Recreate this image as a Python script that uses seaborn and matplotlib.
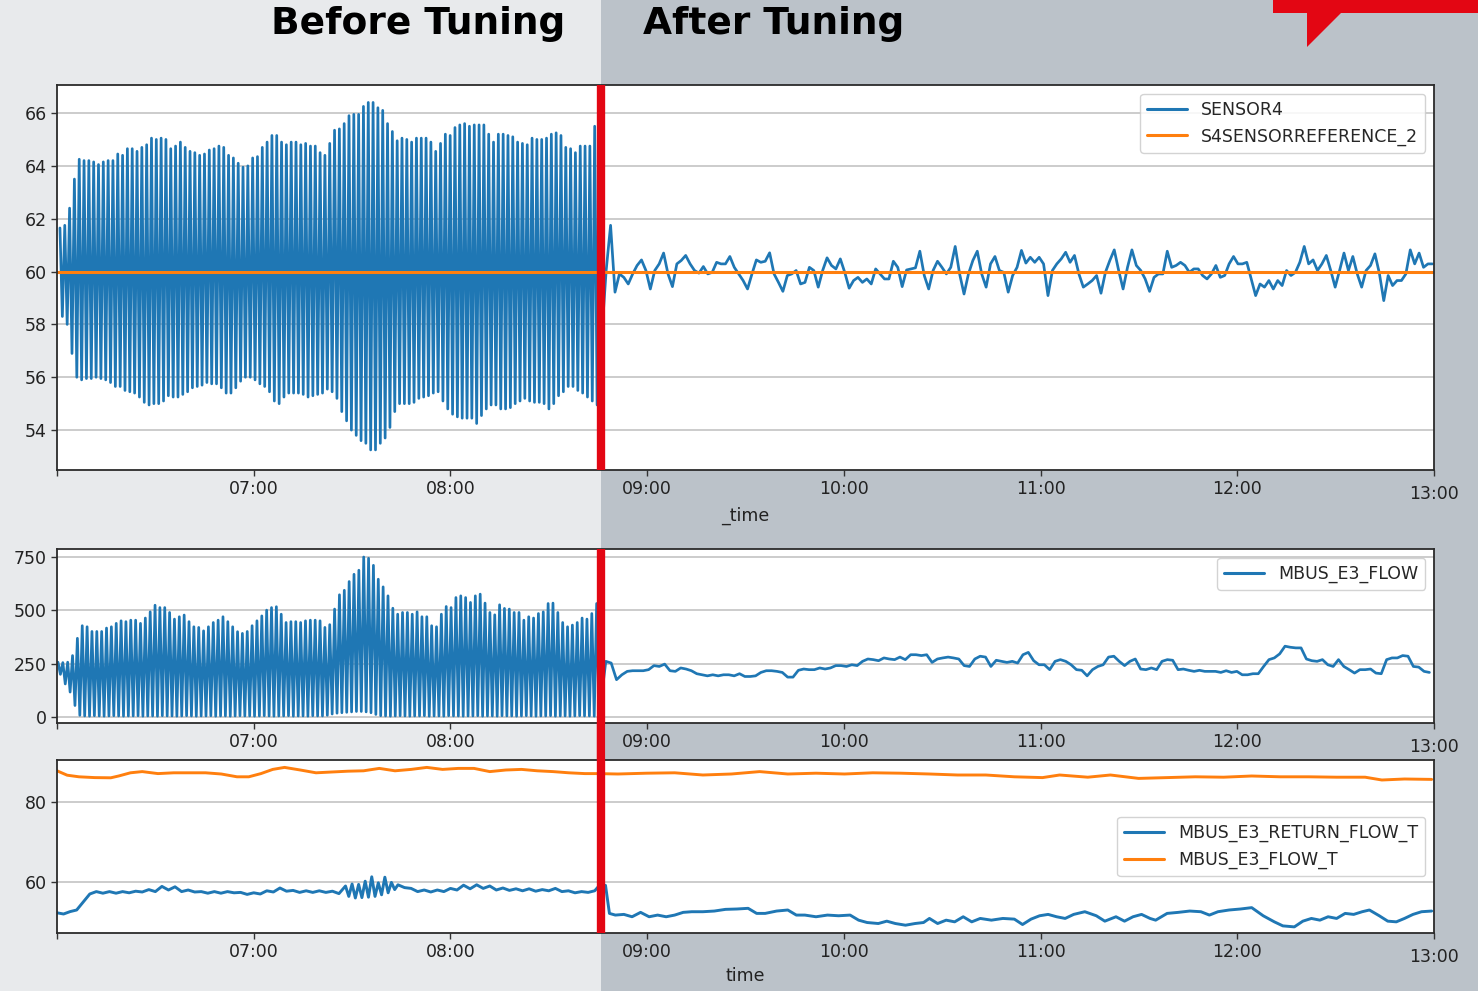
import numpy as np
import pandas as pd
import matplotlib
matplotlib.use("Agg")
import matplotlib.pyplot as plt
import matplotlib.dates as mdates
from matplotlib.patches import Rectangle, Polygon, ConnectionPatch
import seaborn as sns

sns.set_style("ticks")
plt.rcParams['font.family'] = ['DejaVu Sans']

# ---------------- data (minutes after 06:00) ----------------
BASE = pd.Timestamp("2019-03-12 06:00")
X_START_MIN, X_END_MIN = 0, 420
TUNING_MIN = 165.9

# SENSOR4 before tuning: oscillation peaks / troughs (one per cycle)
SENSOR4_PEAKS = [
    61.65, 61.75, 62.4, 63.5, 64.25, 64.2, 64.2, 64.15, 64.05, 64.15,
    64.2, 64.2, 64.45, 64.4, 64.65, 64.65, 64.55, 64.7, 64.8, 65.05,
    65.0, 65.05, 65.0, 64.65, 64.75, 64.9, 64.7, 64.55, 64.5, 64.4,
    64.45, 64.6, 64.65, 64.75, 64.7, 64.4, 64.3, 64.1, 63.95, 64.0,
    64.3, 64.35, 64.7, 64.9, 65.15, 65.15, 64.9, 64.8, 64.9, 64.9,
    64.8, 64.85, 64.75, 64.75, 64.5, 64.4, 64.85, 65.35, 65.4, 65.6,
    65.9, 65.95, 65.95, 66.25, 66.4, 66.4, 66.2, 66.1, 65.6, 65.3,
    64.95, 65.05, 65.0, 64.9, 65.05, 65.05, 65.05, 64.9, 64.55, 64.85,
    65.2, 65.15, 65.45, 65.55, 65.6, 65.5, 65.55, 65.55, 65.55, 65.2,
    64.9, 65.2, 65.2, 65.15, 65.1, 64.9, 64.85, 64.8, 65.05, 65.0,
    65.0, 65.05, 65.2, 65.25, 65.15, 64.7, 64.65, 64.5, 64.75, 64.75,
    64.75, 65.5]
SENSOR4_TROUGHS = [
    58.3, 58.0, 56.9, 56.0, 55.9, 55.95, 55.95, 56.0, 55.95, 55.9,
    55.8, 55.65, 55.65, 55.5, 55.45, 55.4, 55.25, 55.05, 54.95, 55.0,
    55.0, 55.1, 55.3, 55.25, 55.25, 55.35, 55.45, 55.6, 55.65, 55.7,
    55.8, 55.75, 55.75, 55.6, 55.4, 55.4, 55.6, 55.85, 56.0, 56.0,
    55.9, 55.75, 55.65, 55.45, 55.1, 55.0, 55.25, 55.4, 55.4, 55.4,
    55.35, 55.25, 55.3, 55.35, 55.4, 55.55, 55.45, 55.2, 54.7, 54.35,
    54.0, 53.8, 53.6, 53.5, 53.25, 53.25, 53.5, 53.7, 54.1, 54.7,
    55.0, 55.0, 55.0, 55.05, 55.2, 55.25, 55.3, 55.4, 55.45, 55.1,
    54.8, 54.6, 54.5, 54.45, 54.45, 54.45, 54.25, 54.55, 54.8, 54.95,
    54.95, 54.8, 54.8, 54.85, 55.0, 55.1, 55.2, 55.1, 55.05, 55.05,
    55.0, 54.8, 55.0, 55.3, 55.45, 55.65, 55.65, 55.5, 55.4, 55.25,
    55.1, 54.95]
SENSOR4_OSC_START_MIN, SENSOR4_OSC_END_MIN = 0.9, 164.0

# SENSOR4 after tuning (regular samples)
SENSOR4_AFTER = [
    60.04, 61.75, 59.22, 59.91, 59.78, 59.53, 59.91, 60.23, 60.44, 60.04,
    59.34, 60.04, 60.29, 60.70, 59.91, 59.43, 60.29, 60.42, 60.61, 60.29,
    60.04, 59.94, 60.19, 59.91, 59.97, 60.35, 60.29, 60.29, 60.57, 60.16,
    59.91, 59.66, 59.34, 59.91, 60.44, 60.35, 60.39, 60.71, 59.91, 59.59,
    59.25, 59.85, 59.91, 60.04, 59.53, 59.59, 60.16, 60.04, 59.41, 60.04,
    60.52, 60.23, 60.10, 60.48, 59.97, 59.37, 59.66, 59.78, 59.59, 59.72,
    59.53, 60.10, 59.91, 59.72, 59.72, 60.39, 60.16, 59.43, 60.06, 60.10,
    60.14, 60.77, 59.85, 59.34, 60.04, 60.39, 60.16, 59.91, 60.16, 60.95,
    59.91, 59.15, 59.91, 60.42, 60.77, 59.91, 59.41, 60.29, 60.57, 60.04,
    59.97,
    59.22, 59.85, 60.16, 60.80, 60.32, 60.54, 60.35, 60.54, 60.29, 59.09,
    60.04, 60.29, 60.48, 60.73, 60.35, 60.61, 59.91, 59.41, 59.53, 59.66,
    59.85, 59.18, 59.97, 60.42, 60.82, 60.04, 59.34, 60.16, 60.82, 60.23,
    60.04, 59.72, 59.25, 59.78, 59.91, 59.91, 60.77, 60.16, 60.23, 60.35,
    60.23, 59.97, 60.10, 60.10, 59.85, 59.72, 59.91, 60.23, 59.78, 59.85,
    60.29, 60.57, 60.29, 60.29, 60.35, 59.72, 59.09, 59.53, 59.41, 59.66,
    59.34, 59.66, 59.47, 60.04, 59.85, 59.97, 60.35, 60.95, 60.29, 60.44,
    60.04, 60.29, 60.61, 60.04, 59.41, 60.04, 60.70, 60.04, 60.57, 59.91,
    59.41, 60.04, 60.23, 60.67, 59.94, 58.90, 59.85, 59.47, 59.66, 59.66,
    59.91, 60.82, 60.29, 60.70, 60.16, 60.29, 60.29]
SENSOR4_AFTER_START_MIN, SENSOR4_AFTER_END_MIN = 167.5, 419.5

# S4SENSORREFERENCE_2 (constant setpoint)
REF_MIN = [0, 420]
REF_VAL = [60.0, 60.0]

# MBUS_E3_FLOW before tuning: peaks / troughs per cycle
FLOW_PEAKS = [
    257, 255, 257, 288, 369,
    428, 423, 401, 401, 401, 417, 423, 439, 451, 447,
    454, 454, 439, 464, 493, 524, 513, 513, 490, 459,
    470, 478, 447, 423, 420, 404, 423, 443, 454, 470,
    447, 423, 400, 392, 401, 428, 451, 474, 501, 513,
    517, 482, 443, 447, 447, 443, 451, 454, 454, 451,
    420, 433, 506, 573, 594, 635, 669, 688, 750, 744,
    711, 646, 610, 568, 510, 482, 490, 490, 482, 493,
    470, 470, 428, 423, 482, 518, 513, 560, 568, 560,
    537, 568, 576, 534, 490, 479, 526, 509, 506, 490,
    490, 454, 470, 464, 485, 493, 532, 534, 490, 443,
    423, 431, 443, 464, 459, 485, 532]
FLOW_TROUGHS = [
    200, 155, 117, 54, 8,
    5, 4, 6, 5, 4, 5, 6, 5, 4, 5,
    5, 6, 4, 5, 5, 4, 6, 5, 5, 4,
    5, 6, 5, 4, 5, 5, 6, 4, 5, 5,
    4, 5, 6, 5, 5, 4, 5, 6, 5, 4,
    5, 5, 6, 4, 5, 5, 4, 6, 5, 5,
    8, 14, 18, 20, 22, 24, 26, 26, 24, 20,
    12, 6, 5, 4, 5, 6, 5, 4, 5, 5,
    6, 4, 5, 5, 4, 6, 5, 5, 4, 5,
    5, 6, 4, 5, 5, 4, 6, 5, 5, 4,
    5, 6, 5, 4, 5, 5, 6, 4, 5, 5,
    4, 5, 6, 5, 5, 4, 5]
FLOW_OSC_START_MIN, FLOW_OSC_END_MIN = 0.3, 164.6

FLOW_AFTER = [
    261, 253, 175, 198, 214, 217, 217, 217, 222, 241,
    237, 248, 217, 214, 230, 225, 217, 203, 198, 193,
    198, 193, 198, 198, 193, 203, 190, 190, 193, 209,
    217, 217, 214, 209, 187, 187, 219, 225, 222, 222,
    230, 225, 230, 241, 241, 237, 245, 241, 261, 272,
    269, 264, 277, 272, 269, 281, 269, 292, 292, 288,
    292, 256, 272, 277, 281, 277, 272, 241, 237, 272,
    285, 281, 237, 266, 261, 256, 261, 253, 292, 303,
    264, 245, 245, 222, 261, 269, 261, 245, 222, 219,
    193, 222, 237, 245, 281, 285, 261, 241, 261, 272,
    225, 222, 230, 222, 261, 269, 266, 222, 225, 219,
    214, 219, 214, 214, 214, 209, 217, 209, 214, 198,
    198, 203, 203, 237, 269, 277, 296, 332, 327, 324,
    324, 272, 264, 261, 269, 245, 237, 269, 237, 222,
    206, 222, 222, 225, 206, 203, 269, 277, 277, 288,
    285, 237, 234, 214, 209]
FLOW_AFTER_START_MIN, FLOW_AFTER_END_MIN = 167.4, 418.6

# MBUS_E3_RETURN_FLOW_T
RET_MIN = [
    0, 2, 4, 6, 8, 10, 12, 14, 16, 18, 20, 22, 24, 26, 28, 30, 32, 34, 36, 38,
    40, 42, 44, 46, 48, 50, 52, 54, 56, 58, 60, 62, 64, 66, 68, 70, 72, 74, 76, 78,
    80, 82, 84, 86, 88, 89, 90, 91, 92, 93, 94, 95, 96, 97, 98, 99, 100, 101, 102, 103,
    104, 106, 108, 110, 112, 114, 116, 118, 120, 122, 124, 126, 128, 130, 132, 134,
    136, 138, 140, 142, 144, 146, 148, 150, 152, 154, 156, 158, 160, 162, 164, 165.5,
    167.3, 168.5, 170.3, 172.9, 175.4, 178.0, 180.6, 183.2, 185.8, 188.4,
    191.0, 193.6, 197.0, 200.5, 203.9, 207.4, 210.8, 213.4, 216.0, 219.5,
    222.9, 225.5, 228.1, 231.5, 235.0, 238.4, 241.9, 244.5, 247.1, 250.5,
    253.1, 255.7, 258.8, 261.7, 264.3, 266.1, 268.6, 271.2, 273.8, 276.4,
    279.0, 281.6, 285.0, 288.5, 292.0, 294.5, 297.1, 299.7, 302.3, 304.9,
    307.5, 310.1, 313.5, 317.0, 319.6, 323.0, 325.6, 328.2, 330.8, 333.4,
    335.1, 338.6, 342.0, 345.5, 348.9, 351.5, 354.1, 357.5, 361.0, 364.4,
    367.9, 371.3, 373.9, 377.4, 380.0, 382.6, 385.2, 387.7, 390.3, 392.9,
    395.5, 398.1, 400.3, 403.3, 405.9, 408.5, 411.0, 413.6, 416.2, 419.3]
RET_VAL = [
    52.3, 52.0, 52.6, 53.0, 55.0, 57.0, 57.6, 57.2, 57.6, 57.2, 57.6, 57.3, 57.7, 57.5,
    58.1, 57.6, 58.9, 58.0, 58.8, 57.6,
    58.0, 57.5, 57.6, 57.2, 57.6, 57.2, 57.6, 57.3, 57.4, 56.9, 57.3, 57.0, 57.8, 57.5,
    58.5, 57.7, 57.9, 57.4, 57.8, 57.4,
    57.8, 57.4, 57.7, 57.1, 59.0, 56.4, 59.5, 56.0, 59.4, 56.1, 60.2, 56.2, 61.3, 56.4,
    59.8, 56.8, 61.2, 57.3, 59.9, 58.1,
    59.3, 58.6, 58.4, 57.6, 58.0, 57.5, 58.0, 57.6, 58.4, 58.0, 59.2, 58.3, 59.3, 58.4,
    59.0, 58.0,
    58.5, 57.9, 58.3, 57.8, 58.3, 57.7, 58.1, 57.8, 58.4, 57.6, 57.8, 57.3, 57.6, 57.4,
    57.8, 59.2,
    59.16, 52.15, 51.73, 51.90, 51.31, 52.41, 51.31, 51.73, 51.31, 51.73,
    52.41, 52.57, 52.57, 52.74, 53.16, 53.25, 53.42, 52.15, 52.15, 52.74,
    53.0, 51.73, 51.73, 51.31, 51.73, 51.56, 51.73, 50.46, 49.87, 49.62,
    50.21, 49.62, 49.20, 49.62, 49.87, 50.89, 49.62, 50.46, 50.04, 51.31,
    50.04, 50.89, 50.46, 50.89, 50.72, 49.37, 50.72, 51.56, 51.90, 51.31,
    50.89, 51.90, 52.57, 51.56, 50.21, 51.31, 50.21, 51.31, 51.90, 50.89,
    50.46, 52.15, 52.41, 52.74, 52.57, 51.73, 52.57, 53.0, 53.25, 53.59,
    51.56, 50.04, 49.03, 48.78, 50.21, 50.89, 50.46, 51.31, 50.89, 52.15,
    51.90, 52.57, 53.0, 51.56, 50.21, 50.04, 50.89, 51.90, 52.57, 52.74]

# MBUS_E3_FLOW_T
FLOWT_MIN = [
    0, 3.1, 6.7, 11.5, 16.4, 18.8, 22.4, 26.0, 30.8, 35.6, 40.5, 45.3, 50.1, 54.9,
    58.5, 62.2, 65.8, 69.4, 74.2, 79.0, 83.8, 88.7, 93.5, 98.3, 103.1, 108.0, 112.8,
    117.6, 122.4, 127.2, 132.0, 136.9, 141.7, 146.5, 151.3, 156.1, 161.0, 164.6,
    171.1, 179.8, 188.4, 197.0, 205.7, 214.3, 222.9, 231.5, 240.2, 248.8, 257.4,
    266.1, 274.7, 283.3, 292.0, 300.6, 305.8, 314.4, 321.3, 329.9, 338.6, 347.2,
    355.8, 364.4, 373.1, 381.7, 390.3, 399.0, 404.1, 411.0, 419.3]
FLOWT_VAL = [
    87.8, 86.7, 86.3, 86.1, 86.05, 86.5, 87.3, 87.6, 87.1, 87.3, 87.3, 87.3, 87.0, 86.3,
    86.3, 87.1, 88.15, 88.65, 88.0, 87.3, 87.5, 87.7, 87.8, 88.4, 87.8, 88.15, 88.65,
    88.15, 88.4, 88.4, 87.6, 88.0, 88.15, 87.8, 87.6, 87.3, 87.1, 87.1,
    87.0, 87.2, 87.3, 86.75, 87.0, 87.6, 87.0, 87.2, 87.0, 87.3, 87.2,
    87.0, 86.75, 86.75, 86.3, 86.1, 86.75, 86.2, 86.75, 85.9, 86.1, 86.3,
    86.2, 86.5, 86.3, 86.3, 86.2, 86.2, 85.5, 85.75, 85.65]

# ---------------- helpers ----------------
def to_time(mins):
    return BASE + pd.to_timedelta(np.asarray(mins, dtype=float), unit="m")


def cycles(peaks, troughs, t0, t1):
    n = min(len(peaks), len(troughs))
    tp = np.linspace(t0, t1, n)
    half = (t1 - t0) / (n - 1) / 2.0
    t = np.empty(2 * n)
    v = np.empty(2 * n)
    t[0::2], t[1::2] = tp, tp + half
    v[0::2], v[1::2] = peaks[:n], troughs[:n]
    return t, v


s_t, s_v = cycles(SENSOR4_PEAKS, SENSOR4_TROUGHS, SENSOR4_OSC_START_MIN, SENSOR4_OSC_END_MIN)
s_t = np.concatenate([s_t, np.linspace(SENSOR4_AFTER_START_MIN, SENSOR4_AFTER_END_MIN, len(SENSOR4_AFTER))])
s_v = np.concatenate([s_v, SENSOR4_AFTER])
df_sensor = pd.DataFrame({"time": to_time(s_t), "SENSOR4": s_v})
df_ref = pd.DataFrame({"time": to_time(REF_MIN), "S4SENSORREFERENCE_2": REF_VAL})

f_t, f_v = cycles(FLOW_PEAKS, FLOW_TROUGHS, FLOW_OSC_START_MIN, FLOW_OSC_END_MIN)
f_t = np.concatenate([f_t, np.linspace(FLOW_AFTER_START_MIN, FLOW_AFTER_END_MIN, len(FLOW_AFTER))])
f_v = np.concatenate([f_v, FLOW_AFTER])
df_flow = pd.DataFrame({"time": to_time(f_t), "MBUS_E3_FLOW": f_v})

df_ret = pd.DataFrame({"time": to_time(RET_MIN), "MBUS_E3_RETURN_FLOW_T": RET_VAL})
df_flowt = pd.DataFrame({"time": to_time(FLOWT_MIN), "MBUS_E3_FLOW_T": FLOWT_VAL})

# ---------------- figure ----------------
BLUE, ORANGE, RED = "#1f77b4", "#ff7f0e", "#e30613"
BG_LEFT, BG_RIGHT = "#e8eaec", "#bbc2c9"
W, H = 1478, 991
fig = plt.figure(figsize=(W / 100, H / 100), dpi=100)
fig.patch.set_facecolor(BG_RIGHT)

def fr(x0, y0, x1, y1):
    return [x0 / W, 1 - y1 / H, (x1 - x0) / W, (y1 - y0) / H]

ax1 = fig.add_axes(fr(57, 85, 1434, 470))
ax2 = fig.add_axes(fr(57, 549, 1434, 723))
ax3 = fig.add_axes(fr(57, 760, 1434, 933))

kw = dict(estimator=None, sort=False, linewidth=1.95)
sns.lineplot(data=df_sensor, x="time", y="SENSOR4", ax=ax1, color=BLUE, label="SENSOR4", **kw)
sns.lineplot(data=df_ref, x="time", y="S4SENSORREFERENCE_2", ax=ax1, color=ORANGE,
             label="S4SENSORREFERENCE_2", estimator=None, sort=False, linewidth=2.2)
sns.lineplot(data=df_flow, x="time", y="MBUS_E3_FLOW", ax=ax2, color=BLUE, label="MBUS_E3_FLOW", **kw)
sns.lineplot(data=df_ret, x="time", y="MBUS_E3_RETURN_FLOW_T", ax=ax3, color=BLUE,
             label="MBUS_E3_RETURN_FLOW_T", estimator=None, sort=False, linewidth=2.1)
sns.lineplot(data=df_flowt, x="time", y="MBUS_E3_FLOW_T", ax=ax3, color=ORANGE,
             label="MBUS_E3_FLOW_T", estimator=None, sort=False, linewidth=2.1)

t_start, t_end = to_time([X_START_MIN, X_END_MIN])
t_tune = to_time([TUNING_MIN])[0]

def hm(x, pos):
    d = mdates.num2date(x)
    return "" if (d.hour == 6 and d.minute == 0) else d.strftime("%H:%M")

for ax, (lo, hi), yt in [(ax1, (52.49, 67.06), [54, 56, 58, 60, 62, 64, 66]),
                         (ax2, (-28, 787.5), [0, 250, 500, 750]),
                         (ax3, (47.25, 90.5), [60, 80])]:
    ax.set_facecolor("white")
    ax.set_xlim(t_start, t_end)
    ax.set_ylim(lo, hi)
    ax.set_yticks(yt)
    ax.xaxis.set_major_locator(mdates.HourLocator(byhour=range(6, 14)))
    ax.xaxis.set_major_formatter(plt.FuncFormatter(hm))
    ax.grid(axis="y", color="#c4c4c4", linewidth=1.2)
    ax.grid(axis="x", visible=False)
    ax.tick_params(axis="both", labelsize=12.5, length=4.5, width=1, color="#333333",
                   labelcolor="#222222", pad=3)
    for s in ax.spines.values():
        s.set_visible(True)
        s.set_color("#2b2b2b")
        s.set_linewidth(1.3)
    ax.set_ylabel("")
    ax.set_xlabel("")
    ticks = ax.xaxis.get_major_ticks()
    if ticks:
        ticks[-1].set_pad(6)

ax1.set_xlabel("_time", fontsize=12.5, labelpad=3, color="#222222")
ax3.set_xlabel("time", fontsize=12.5, labelpad=1, color="#222222")

leg_kw = dict(fontsize=12.5, framealpha=0.85, edgecolor="#cccccc", handlelength=2.3)
ax1.legend(loc="upper right", **leg_kw)
ax2.legend(loc="upper right", **leg_kw)
ax3.legend(loc="center right", **leg_kw)
for ax in (ax1, ax2, ax3):
    for ln in ax.get_legend().get_lines():
        ln.set_linewidth(2.2)

# tuning marker (red vertical line)
ax1.axvline(t_tune, color=RED, linewidth=6, zorder=6)
ax2.axvline(t_tune, color=RED, linewidth=6, zorder=6)
ax3.axvline(t_tune, color=RED, linewidth=6, zorder=6)
con = ConnectionPatch(xyA=(mdates.date2num(t_tune), 0), coordsA=ax2.get_xaxis_transform(),
                      xyB=(mdates.date2num(t_tune), 1), coordsB=ax3.get_xaxis_transform(),
                      color=RED, linewidth=6, capstyle="butt", zorder=6)
fig.add_artist(con)

# background split at tuning time
fig.canvas.draw()
x_split = ax1.transData.transform((mdates.date2num(t_tune), 0))[0] / fig.bbox.width
fig.add_artist(Rectangle((0, 0), x_split, 1, transform=fig.transFigure,
                         facecolor=BG_LEFT, edgecolor="none", zorder=-5))

# red corner mark
fig.add_artist(Polygon([(1273 / W, 1), (1, 1), (1, 1 - 13 / H), (1341 / W, 1 - 13 / H),
                        (1307 / W, 1 - 47 / H), (1307 / W, 1 - 13 / H), (1273 / W, 1 - 13 / H)],
                       closed=True, transform=fig.transFigure, facecolor=RED,
                       edgecolor="none", zorder=3))

fig.text(418 / W, 1 - 24 / H, "Before Tuning", fontsize=27, fontweight="bold",
         ha="center", va="center", color="black")
fig.text(643 / W, 1 - 24 / H, "After Tuning", fontsize=27, fontweight="bold",
         ha="left", va="center", color="black")

fig.savefig("out.png", dpi=100, facecolor=fig.get_facecolor())
